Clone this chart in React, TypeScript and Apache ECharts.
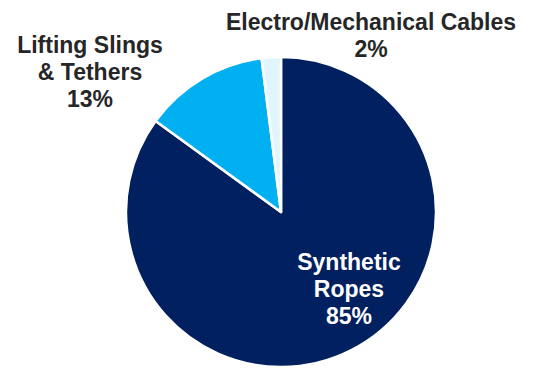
import React, { useEffect, useRef } from "react";
import * as echarts from "echarts";

const categories = ["Synthetic Ropes", "Lifting Slings & Tethers", "Electro/Mechanical Cables"];
const labelLines = [["Synthetic", "Ropes"], ["Lifting Slings", "& Tethers"], ["Electro/Mechanical Cables"]];
const values = [85, 13, 2];
const colors = ["#00205F", "#00B0F0", "#E1F5FE"];

export default function App() {
  const ref = useRef<HTMLDivElement>(null);
  useEffect(() => {
    if (!ref.current) return;
    const chart = echarts.init(ref.current, undefined, { renderer: "svg" });
    const font = "'Liberation Sans', Arial, sans-serif";
    const labelPos = [
      { x: 349, y: 289, color: "#ffffff" },
      { x: 90, y: 72, color: "#262626" },
      { x: 371, y: 35, color: "#262626" },
    ];
    chart.setOption({
      animation: false,
      series: [
        {
          type: "pie",
          center: [281, 212],
          radius: [0, 155],
          startAngle: 90,
          clockwise: true,
          label: { show: false },
          labelLine: { show: false },
          itemStyle: { borderColor: "#ffffff", borderWidth: 2.5 },
          emphasis: { disabled: true },
          data: categories.map((c, i) => ({
            name: c,
            value: values[i],
            itemStyle: { color: colors[i] },
          })),
        },
      ],
      graphic: categories.map((c, i) => ({
        type: "text",
        x: labelPos[i].x,
        y: labelPos[i].y,
        z: 100,
        zlevel: 1,
        style: {
          text: [...labelLines[i], values[i] + "%"].join("\n"),
          fill: labelPos[i].color,
          font: `bold 23px ${font}`,
          lineHeight: 27,
          align: "center",
          verticalAlign: "middle",
        },
      })),
    });
    return () => chart.dispose();
  }, []);
  return <div ref={ref} style={{ width: 537, height: 370, position: "absolute", left: 0, top: 0 }} />;
}
